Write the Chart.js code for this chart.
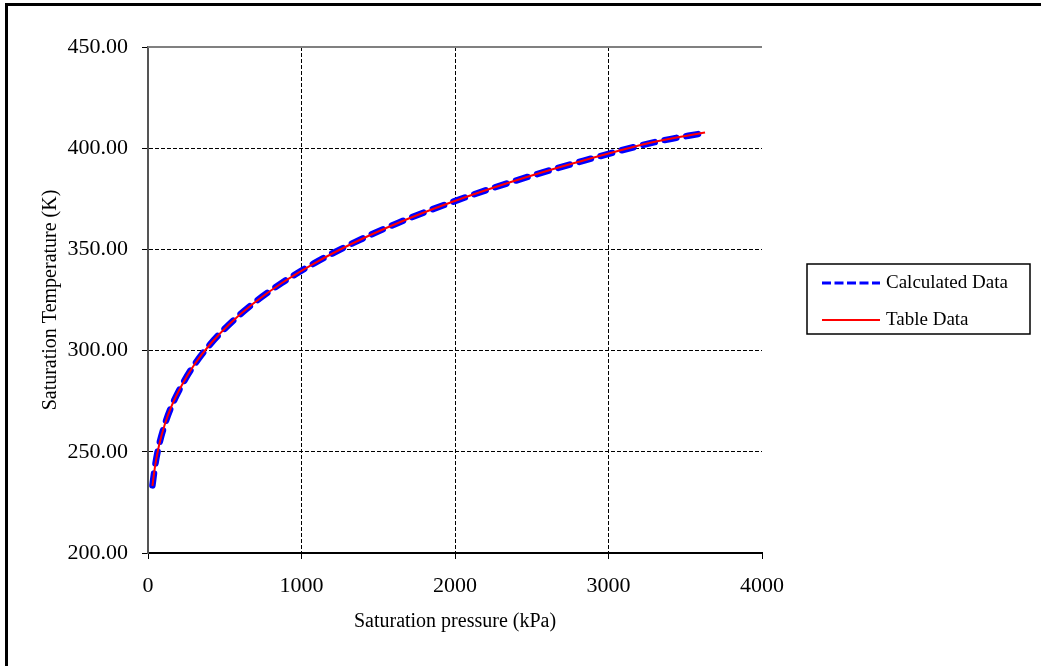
<!DOCTYPE html>
<html>
<head>
<meta charset="utf-8">
<title>Saturation Temperature vs Pressure</title>
<script src="https://cdn.jsdelivr.net/npm/chart.js@4.4.1/dist/chart.umd.min.js"></script>
<style>
  html, body { margin: 0; padding: 0; background: #fff; }
  #wrap { position: relative; width: 1041px; height: 666px; overflow: hidden; }
  #frame { position: absolute; left: 5px; top: 3px; width: 1100px; height: 700px;
           border-left: 3px solid #000; border-top: 3px solid #000; }
  #chart { position: absolute; left: 0; top: 0; }
</style>
</head>
<body>
<div id="wrap">
  <div id="frame"></div>
  <canvas id="chart" width="1041" height="666"></canvas>
</div>
<script>
// Saturation table: pressure (kPa) and temperature (K)
const tablePressure = [28.9, 46.6, 71.7, 107.7, 156.8, 221.9, 302.4, 404.8, 531.0, 684.0,
                       867.0, 1084, 1338, 1632, 1971, 2359, 2800, 3302, 3629];
const tableTemp = [233.15, 243.15, 253.15, 263.15, 273.15, 283.15, 293.15, 303.15, 313.15, 323.15,
                   333.15, 343.15, 353.15, 363.15, 373.15, 383.15, 393.15, 403.15, 407.81];

// Temperatures from the correlation at the same pressures
const calcPressure = tablePressure;
const calcTemp = [233.4, 243.3, 253.2, 263.1, 273.1, 283.1, 293.1, 303.1, 313.1, 323.2,
                  333.2, 343.2, 353.2, 363.2, 373.1, 383.1, 393.0, 403.0, 407.6];

const xTicks = [0, 1000, 2000, 3000, 4000];
const yTicks = [200, 250, 300, 350, 400, 450];

const seriesNames = ['Calculated Data', 'Table Data'];

const pts = (xs, ys) => xs.map((x, i) => ({ x: x, y: ys[i] }));

Chart.defaults.font.family = '"Liberation Serif", "Times New Roman", serif';
Chart.defaults.color = '#000';

// gray line along the top of the plot area
const plotTop = {
  id: 'plotTop',
  beforeDatasetsDraw(chart) {
    const { ctx, chartArea: a } = chart;
    ctx.save();
    ctx.strokeStyle = '#808080';
    ctx.lineWidth = 2;
    ctx.beginPath();
    ctx.moveTo(a.left, a.top);
    ctx.lineTo(a.right, a.top);
    ctx.stroke();
    ctx.restore();
  }
};

// boxed legend to the right of the plot
const boxLegend = {
  id: 'boxLegend',
  afterDraw(chart) {
    const ctx = chart.ctx;
    const ds = chart.data.datasets;
    ctx.save();
    ctx.strokeStyle = '#000';
    ctx.lineWidth = 1.5;
    ctx.strokeRect(807, 264, 223, 70);

    const rows = [283, 320];
    ds.forEach((d, i) => {
      const y = rows[i];
      ctx.beginPath();
      ctx.strokeStyle = d.borderColor;
      if (d.borderDash) {
        ctx.lineWidth = 3;
        ctx.setLineDash([9, 3.5]);
      } else {
        ctx.lineWidth = 2;
        ctx.setLineDash([]);
      }
      ctx.moveTo(822, y);
      ctx.lineTo(880, y);
      ctx.stroke();
      ctx.setLineDash([]);
      ctx.fillStyle = '#000';
      ctx.font = '19px "Liberation Serif", serif';
      ctx.textBaseline = 'middle';
      ctx.fillText(d.label, 886, y);
    });
    ctx.restore();
  }
};

new Chart(document.getElementById('chart'), {
  type: 'line',
  data: {
    datasets: [
      {
        label: seriesNames[0],
        data: pts(calcPressure, calcTemp),
        borderColor: '#0000ff',
        borderWidth: 6.5,
        borderDash: [12, 10],
        borderCapStyle: 'round',
        pointRadius: 0,
        cubicInterpolationMode: 'monotone',
        order: 2
      },
      {
        label: seriesNames[1],
        data: pts(tablePressure, tableTemp),
        borderColor: '#ff0000',
        borderWidth: 2,
        pointRadius: 0,
        cubicInterpolationMode: 'monotone',
        order: 1
      }
    ]
  },
  options: {
    responsive: false,
    animation: false,
    layout: { padding: { top: 47, right: 279, bottom: 0, left: 0 } },
    plugins: {
      legend: { display: false },
      tooltip: { enabled: false }
    },
    scales: {
      x: {
        type: 'linear',
        min: xTicks[0],
        max: xTicks[xTicks.length - 1],
        afterBuildTicks: s => { s.ticks = xTicks.map(v => ({ value: v })); },
        afterFit: s => { s.height = 113; },
        border: { color: '#000', width: 2, dash: [4, 2] },
        grid: {
          color: c => (c.tick && (c.tick.value === xTicks[0] || c.tick.value === xTicks[xTicks.length - 1])) ? 'rgba(0,0,0,0)' : '#000',
          lineWidth: 1,
          tickLength: 6,
          tickColor: '#000',
          tickWidth: 1
        },
        ticks: {
          font: { size: 22 },
          padding: 14,
          color: '#000',
          maxRotation: 0,
          callback: v => String(v)
        },
        title: {
          display: true,
          text: 'Saturation pressure (kPa)',
          font: { size: 20 },
          color: '#000',
          padding: { top: 0, bottom: 32 }
        }
      },
      y: {
        min: yTicks[0],
        max: yTicks[yTicks.length - 1],
        afterBuildTicks: s => { s.ticks = yTicks.map(v => ({ value: v })); },
        afterFit: s => { s.width = 148; },
        border: { color: '#555', width: 2, dash: [4, 2] },
        grid: {
          color: c => (c.tick && (c.tick.value === yTicks[0] || c.tick.value === yTicks[yTicks.length - 1])) ? 'rgba(0,0,0,0)' : '#000',
          lineWidth: 1,
          tickLength: 6,
          tickColor: '#000',
          tickWidth: 1
        },
        ticks: {
          font: { size: 22 },
          padding: 14,
          color: '#000',
          callback: v => v.toFixed(2)
        },
        title: {
          display: true,
          text: 'Saturation Temperature (K)',
          font: { size: 20 },
          color: '#000',
          padding: { top: 39, bottom: 0 }
        }
      }
    }
  },
  plugins: [plotTop, boxLegend]
});
</script>
</body>
</html>
